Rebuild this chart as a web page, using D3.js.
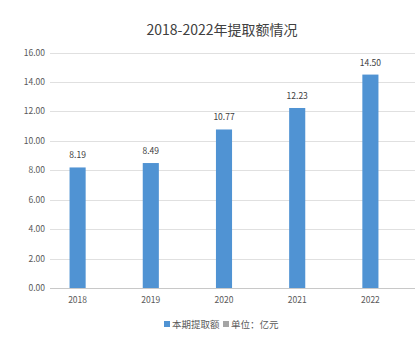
<!DOCTYPE html>
<html lang="zh">
<head>
  <meta charset="UTF-8">
  <title>2018-2022年提取额情况</title>
  <script src="https://d3js.org/d3.v7.min.js"></script>
  <style>
    body { margin: 0; background: #fff; }
    svg { display: block; font-family: "Noto Sans CJK SC", "Liberation Sans", sans-serif; }
  </style>
</head>
<body>
  <svg width="420" height="354"></svg>
  <script>
    const years = ["2018", "2019", "2020", "2021", "2022"];
    const amounts = [8.19, 8.49, 10.77, 12.23, 14.50];
    const yTicks = [0, 2, 4, 6, 8, 10, 12, 14, 16];
    const legendItems = ["本期提取额", "单位：亿元"];
    const legendColors = ["#5093d3", "#a5a5a5"];

    const svg = d3.select("svg");

    const x = d3.scaleBand()
      .domain(years)
      .range([41, 407])
      .paddingInner(0.78)
      .paddingOuter(0.39);

    const y = d3.scaleLinear()
      .domain([0, 16])
      .range([288, 52.5]);

    // title
    svg.append("text")
      .attr("x", 222).attr("y", 35)
      .attr("text-anchor", "middle")
      .attr("font-size", 14)
      .attr("fill", "#404040")
      .text("2018-2022年提取额情况");

    // gridlines
    svg.append("g")
      .selectAll("line")
      .data(yTicks)
      .enter().append("line")
        .attr("x1", 50).attr("x2", 415)
        .attr("y1", d => Math.round(y(d)) + 0.5)
        .attr("y2", d => Math.round(y(d)) + 0.5)
        .attr("stroke", d => d === 0 ? "#c8c8c8" : "#e0e0e0")
        .attr("stroke-width", 1);

    // y tick labels
    svg.append("g")
      .selectAll("text")
      .data(yTicks)
      .enter().append("text")
        .attr("x", 45)
        .attr("y", d => y(d) + 3)
        .attr("text-anchor", "end")
        .attr("font-size", 8.5)
        .attr("fill", "#595959")
        .text(d => d.toFixed(2));

    // bars
    svg.append("g")
      .selectAll("rect")
      .data(amounts)
      .enter().append("rect")
        .attr("x", (d, i) => x(years[i]))
        .attr("y", d => y(d))
        .attr("width", x.bandwidth())
        .attr("height", d => y(0) - y(d))
        .attr("fill", "#5093d3");

    // value labels
    svg.append("g")
      .selectAll("text")
      .data(amounts)
      .enter().append("text")
        .attr("x", (d, i) => x(years[i]) + x.bandwidth() / 2)
        .attr("y", d => y(d) - 9)
        .attr("text-anchor", "middle")
        .attr("font-size", 8.5)
        .attr("fill", "#404040")
        .text(d => d.toFixed(2));

    // x labels
    svg.append("g")
      .selectAll("text")
      .data(years)
      .enter().append("text")
        .attr("x", d => x(d) + x.bandwidth() / 2)
        .attr("y", 303)
        .attr("text-anchor", "middle")
        .attr("font-size", 8.5)
        .attr("fill", "#595959")
        .text(d => d);

    // legend
    const legend = svg.append("g");
    const legendX = [164, 223];
    legendItems.forEach((name, i) => {
      legend.append("rect")
        .attr("x", legendX[i]).attr("y", 321)
        .attr("width", 6).attr("height", 6)
        .attr("fill", legendColors[i]);
      legend.append("text")
        .attr("x", legendX[i] + 8).attr("y", 328)
        .attr("font-size", 9.5)
        .attr("fill", "#595959")
        .text(name);
    });
  </script>
</body>
</html>
